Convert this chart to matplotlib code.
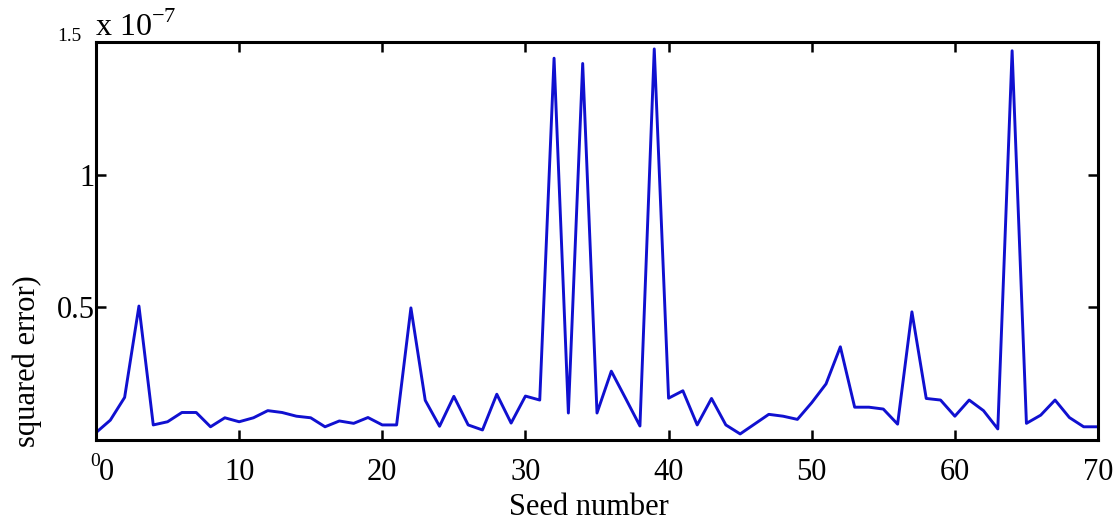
import numpy as np
import matplotlib
matplotlib.use("Agg")
import matplotlib.pyplot as plt
import matplotlib.transforms as mtransforms

# Data (squared error, in units of 1e-7) per seed
seeds = np.arange(0, 71)
sq_error = [
    0.026, 0.073, 0.159, 0.504, 0.055, 0.067, 0.102, 0.102, 0.048, 0.082,
    0.067, 0.082, 0.109, 0.102, 0.088, 0.082, 0.048, 0.070, 0.061, 0.083,
    0.055, 0.055, 0.497, 0.148, 0.050, 0.163, 0.055, 0.036, 0.171, 0.062,
    0.164, 0.149, 1.440, 0.100, 1.420, 0.100, 0.258, 0.155, 0.051, 1.475,
    0.156, 0.184, 0.055, 0.155, 0.055, 0.021, 0.058, 0.095, 0.088, 0.076,
    0.139, 0.210, 0.350, 0.122, 0.122, 0.115, 0.058, 0.482, 0.155, 0.149,
    0.088, 0.149, 0.109, 0.040, 1.468, 0.061, 0.092, 0.149, 0.083, 0.048,
    0.048,
]
xticks = [0, 10, 20, 30, 40, 50, 60, 70]
yticks = [0.5, 1]
ytick_labels = ["0.5", "1"]

plt.rcParams['font.family'] = ['Liberation Serif', 'DejaVu Serif']
plt.rcParams['mathtext.fontset'] = 'custom'
plt.rcParams['mathtext.rm'] = 'Liberation Serif'

fig = plt.figure(figsize=(11.16, 5.23), dpi=100)
ax = fig.add_axes([96 / 1116, 1 - 439.5 / 523, 1002 / 1116, 397.2 / 523])

ax.plot(seeds, sq_error, color='#1010d0', linewidth=2.1)

ax.set_xlim(0, 70)
ax.set_ylim(0, 1.5)
ax.set_xticks(xticks)
ax.set_xticklabels([str(t) for t in xticks])
ax.set_yticks(yticks)
ax.set_yticklabels(ytick_labels)

for s in ax.spines.values():
    s.set_linewidth(2.2)
ax.tick_params(direction='in', length=7, width=1.8, labelsize=22,
               top=True, right=True, pad=4)
ax.tick_params(axis='y', pad=1)
ax.tick_params(axis='x', pad=13)

# the first x label sits a little to the right in the original
first = ax.get_xticklabels()[0]
first.set_transform(first.get_transform() +
                    mtransforms.ScaledTranslation(10 / 100, 0, fig.dpi_scale_trans))

# small end labels and the exponent note
ax.text(-0.027, 1.015, "1.5", transform=ax.transAxes, fontsize=14,
        ha='center', va='center')
ax.text(-0.001, -0.055, "0", transform=ax.transAxes, fontsize=14,
        ha='center', va='center')
ax.text(-0.001, 0.998, r"x 10$^{\mathregular{-7}}$", transform=ax.transAxes,
        fontsize=23, ha='left', va='bottom')

ax.set_xlabel("Seed number", fontsize=22)
ax.xaxis.set_label_coords(0.492, -0.135)
fig.text(27 / 1116, 1 - 361 / 523, "squared error)", rotation=90,
         fontsize=22, ha='center', va='center')

fig.savefig("out.png", dpi=100)
